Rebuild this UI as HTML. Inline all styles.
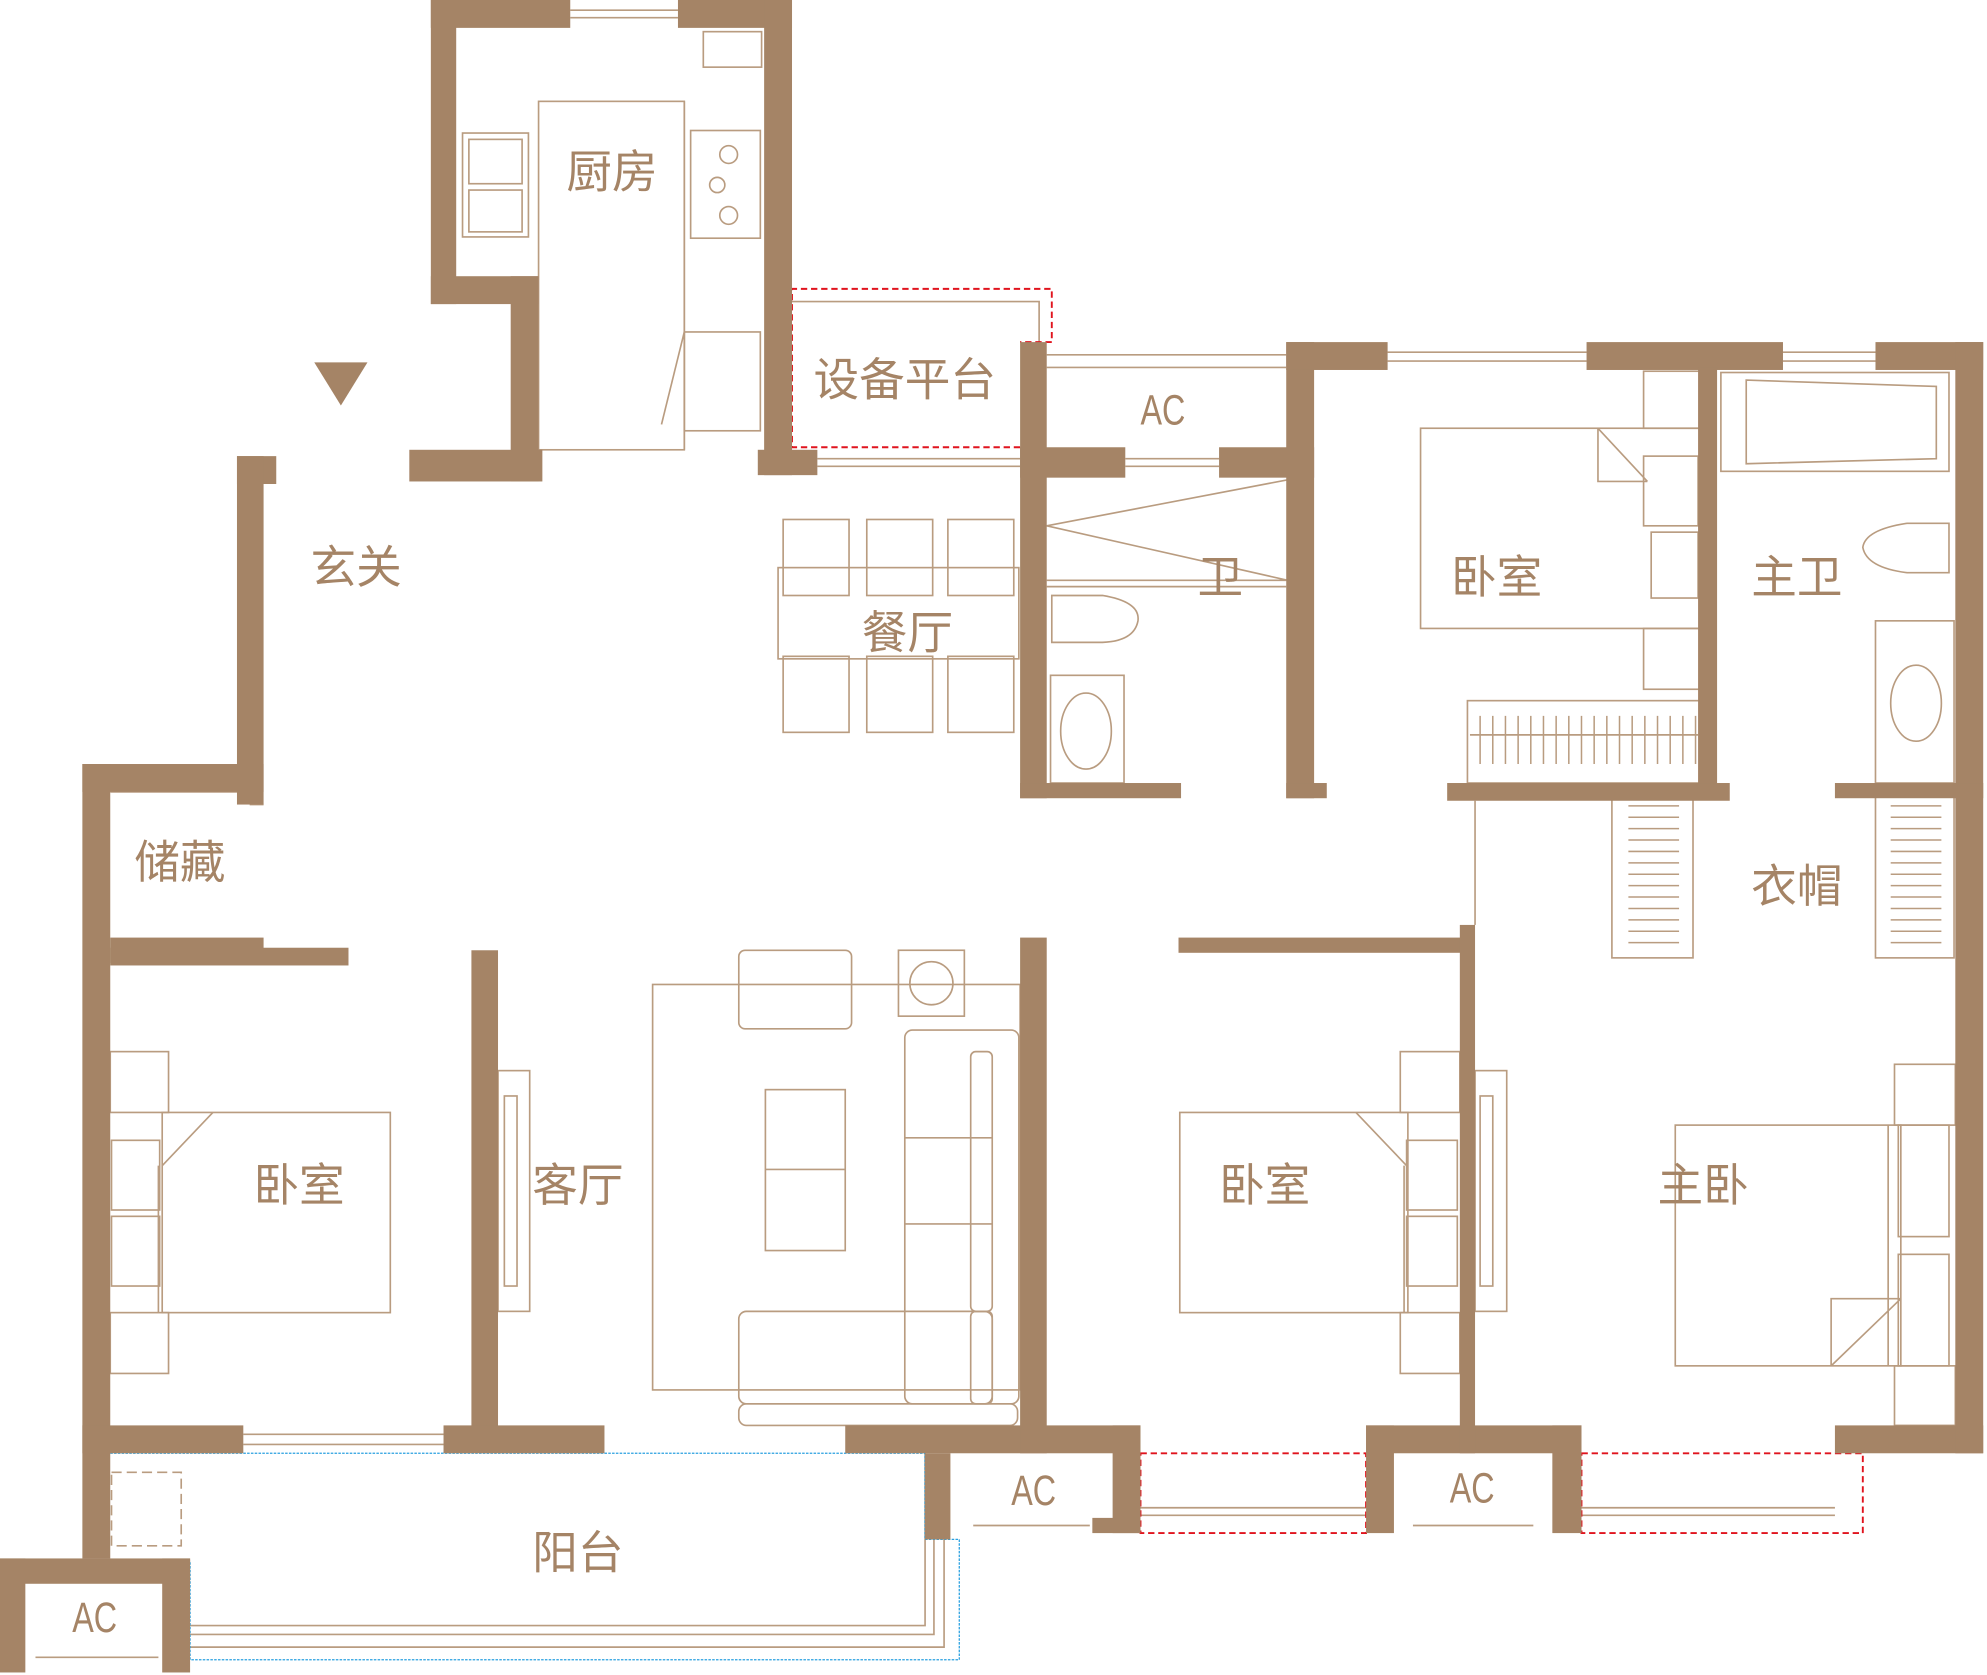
<!DOCTYPE html>
<html><head><meta charset="utf-8"><style>
html,body{margin:0;padding:0;background:#fff;}
svg{display:block}
text{font-family:"Liberation Sans","Noto Sans CJK SC",sans-serif;fill:#a58466;}
</style></head><body>
<svg width="1987" height="1675" viewBox="0 0 1568 1322" preserveAspectRatio="none" xmlns="http://www.w3.org/2000/svg">
<g fill="none" stroke="#b99c80" stroke-width="1.3">
<!-- kitchen furniture -->
<rect x="425" y="80" width="115" height="275"/>
<line x1="540" y1="80" x2="540" y2="355"/>
<rect x="365" y="105" width="52" height="82"/><rect x="370" y="110" width="42" height="35"/><rect x="370" y="150" width="42" height="33"/>
<rect x="545" y="103" width="55" height="85"/><circle cx="575" cy="122" r="7"/><circle cx="566" cy="146" r="6"/><circle cx="575" cy="170" r="7"/>
<rect x="555" y="25" width="46" height="28"/>
<rect x="540" y="262" width="60" height="78"/><line x1="522" y1="335" x2="540" y2="262"/>
<!-- equipment platform -->
<polyline points="625,238 820,238 820,270"/>
<!-- AC top -->
<line x1="826" y1="280" x2="1015" y2="280"/><line x1="826" y1="290" x2="1015" y2="290"/>
<!-- windows -->
<g>
<line x1="450" y1="8" x2="535" y2="8"/><line x1="450" y1="14" x2="535" y2="14"/>
<line x1="645" y1="362" x2="805" y2="362"/><line x1="645" y1="368" x2="805" y2="368"/>
<line x1="888" y1="362" x2="962" y2="362"/><line x1="888" y1="368" x2="962" y2="368"/>
<line x1="1095" y1="278" x2="1252" y2="278"/><line x1="1095" y1="285" x2="1252" y2="285"/>
<line x1="1407" y1="278" x2="1480" y2="278"/><line x1="1407" y1="285" x2="1480" y2="285"/>
<line x1="192" y1="1132" x2="350" y2="1132"/><line x1="192" y1="1140" x2="350" y2="1140"/>
<line x1="900" y1="1190" x2="1078" y2="1190"/><line x1="900" y1="1196" x2="1078" y2="1196"/>
<line x1="1248" y1="1190" x2="1448" y2="1190"/><line x1="1248" y1="1196" x2="1448" y2="1196"/>
</g>
<!-- dining -->
<rect x="614" y="448" width="190" height="72"/>
<rect x="618" y="410" width="52" height="60"/><rect x="684" y="410" width="52" height="60"/><rect x="748" y="410" width="52" height="60"/>
<rect x="618" y="518" width="52" height="60"/><rect x="684" y="518" width="52" height="60"/><rect x="748" y="518" width="52" height="60"/>
<!-- bath -->
<line x1="826" y1="415" x2="1025" y2="377"/><line x1="826" y1="415" x2="1025" y2="460"/>
<line x1="826" y1="458" x2="1015" y2="458"/><line x1="826" y1="463" x2="1015" y2="463"/>
<path d="M830 470 H870 Q900 475 898 490 Q895 506 870 507 H830 Z"/>
<rect x="829" y="533" width="58" height="85"/><ellipse cx="857" cy="577" rx="20" ry="30"/>
<!-- bedroom top -->
<rect x="1121" y="338" width="220" height="158"/>
<polyline points="1261,338 1261,380 1300,380"/><line x1="1261" y1="338" x2="1300" y2="380"/>
<rect x="1297" y="360" width="43" height="55"/><rect x="1303" y="420" width="37" height="52"/>
<rect x="1297" y="293" width="45" height="45"/><rect x="1297" y="496" width="45" height="48"/>
<rect x="1158" y="553" width="184" height="65"/>
<line x1="1160" y1="580" x2="1340" y2="580"/>
<!-- master bath -->
<rect x="1358" y="294" width="180" height="78"/><path d="M1378 300 L1528 305 L1528 362 L1378 366 Z"/>
<path d="M1538 413 H1505 Q1472 418 1470 432 Q1473 448 1505 452 H1538 Z"/>
<rect x="1480" y="490" width="62" height="128"/><ellipse cx="1512" cy="555" rx="20" ry="30"/>
<!-- wardrobe -->
<rect x="1272" y="628" width="64" height="128"/><rect x="1480" y="628" width="62" height="128"/>
<line x1="1164" y1="632" x2="1164" y2="730"/>
<!-- living -->
<rect x="515" y="777" width="290" height="320"/>
<rect x="583" y="750" width="89" height="62" rx="5"/><rect x="709" y="750" width="52" height="52"/><circle cx="735" cy="776" r="17"/>
<rect x="604" y="860" width="63" height="127"/><line x1="604" y1="923" x2="667" y2="923"/>
<rect x="714" y="813" width="90" height="295" rx="6"/><rect x="766" y="830" width="17" height="205" rx="4"/>
<line x1="714" y1="898" x2="783" y2="898"/><line x1="714" y1="966" x2="783" y2="966"/>
<rect x="583" y="1035" width="200" height="73" rx="6"/><rect x="766" y="1035" width="17" height="73" rx="4"/>
<rect x="583" y="1108" width="220" height="17" rx="6"/>
<rect x="393" y="845" width="25" height="190"/><rect x="398" y="865" width="10" height="150"/>
<!-- left bedroom -->
<rect x="128" y="878" width="180" height="158"/>
<polyline points="168,878 128,920"/><line x1="125" y1="920" x2="125" y2="1036"/>
<rect x="88" y="900" width="38" height="55"/><rect x="88" y="960" width="38" height="55"/>
<rect x="87" y="830" width="46" height="48"/><rect x="87" y="1036" width="46" height="48"/>
<!-- bedroom 2 -->
<rect x="931" y="878" width="180" height="158"/>
<polyline points="1070,878 1110,920"/><line x1="1108" y1="920" x2="1108" y2="1036"/>
<rect x="1110" y="900" width="40" height="55"/><rect x="1110" y="960" width="40" height="55"/>
<rect x="1105" y="830" width="47" height="48"/><rect x="1105" y="1036" width="47" height="48"/>
<rect x="1164" y="845" width="25" height="190"/><rect x="1168" y="865" width="10" height="150"/>
<!-- master bed -->
<rect x="1322" y="888" width="178" height="190"/>
<line x1="1445" y1="1078" x2="1500" y2="1025"/><polyline points="1445,1078 1445,1025 1500,1025"/>
<rect x="1498" y="888" width="40" height="88"/><rect x="1498" y="990" width="40" height="88"/>
<rect x="1495" y="840" width="48" height="48"/><rect x="1495" y="1078" width="48" height="47"/>
<line x1="1490" y1="888" x2="1490" y2="1078"/>
<!-- balcony -->
<polyline points="150,1283 730,1283 730,1147"/><polyline points="150,1290 737,1290 737,1210"/><polyline points="150,1300 745,1300 745,1210"/>
<rect x="88" y="1162" width="55" height="58" stroke-dasharray="8,4"/>
<!-- storage -->
<line x1="87" y1="625" x2="197" y2="625"/>
<line x1="197" y1="635" x2="208" y2="635"/>
<line x1="768" y1="1204" x2="860" y2="1204"/><line x1="1115" y1="1204" x2="1210" y2="1204"/>
<line x1="28" y1="1308" x2="125" y2="1308"/>
</g>
<!-- wardrobe hanger lines -->
<g stroke="#b99c80" stroke-width="1.2">
<path d="M1285 636H1325M1285 645H1325M1285 654H1325M1285 663H1325M1285 672H1325M1285 681H1325M1285 690H1325M1285 699H1325M1285 708H1325M1285 717H1325M1285 726H1325M1285 735H1325M1285 744H1325"/>
<path d="M1492 636H1532M1492 645H1532M1492 654H1532M1492 663H1532M1492 672H1532M1492 681H1532M1492 690H1532M1492 699H1532M1492 708H1532M1492 717H1532M1492 726H1532M1492 735H1532M1492 744H1532"/>
<path d="M1168 565V603M1178 565V603M1188 565V603M1198 565V603M1208 565V603M1218 565V603M1228 565V603M1238 565V603M1248 565V603M1258 565V603M1268 565V603M1278 565V603M1288 565V603M1298 565V603M1308 565V603M1318 565V603M1328 565V603M1338 565V603"/>
</g>
<!-- red dashed -->
<g fill="none" stroke="#e0141e" stroke-width="1.5" stroke-dasharray="5,3">
<polyline points="805,353 625,353 625,228 830,228 830,270 805,270"/>
<rect x="900" y="1147" width="178" height="63"/>
<rect x="1248" y="1147" width="222" height="63"/>
</g>
<g fill="none" stroke="#2aa0e0" stroke-width="1" stroke-dasharray="2,1">
<polyline points="87,1147 730,1147 730,1215 757,1215 757,1310 150,1310 150,1232 87,1232"/>
</g>
<!-- walls -->
<g fill="#a58466">
<rect x="340" y="0" width="110" height="22"/><rect x="535" y="0" width="90" height="22"/>
<rect x="340" y="0" width="20" height="240"/><rect x="340" y="218" width="85" height="22"/>
<rect x="403" y="218" width="22" height="162"/><rect x="323" y="355" width="105" height="25"/>
<rect x="603" y="0" width="22" height="375"/><rect x="598" y="355" width="47" height="20"/>
<rect x="187" y="360" width="31" height="22"/><rect x="187" y="360" width="21" height="275"/>
<rect x="65" y="603" width="143" height="22"/><rect x="65" y="603" width="22" height="627"/>
<rect x="87" y="740" width="121" height="20"/><rect x="87" y="748" width="188" height="14"/>
<rect x="372" y="750" width="21" height="395"/>
<rect x="65" y="1125" width="127" height="22"/><rect x="350" y="1125" width="127" height="22"/>
<rect x="667" y="1125" width="233" height="22"/><rect x="878" y="1125" width="22" height="85"/>
<rect x="730" y="1147" width="20" height="68"/>
<rect x="1078" y="1125" width="170" height="22"/><rect x="1078" y="1125" width="22" height="85"/><rect x="1225" y="1125" width="23" height="85"/>
<rect x="1448" y="1125" width="117" height="22"/>
<rect x="805" y="270" width="21" height="360"/><rect x="805" y="353" width="83" height="24"/><rect x="962" y="353" width="75" height="24"/>
<rect x="1015" y="270" width="22" height="360"/>
<rect x="1015" y="270" width="80" height="22"/><rect x="1252" y="270" width="155" height="22"/><rect x="1480" y="270" width="85" height="22"/>
<rect x="1340" y="290" width="15" height="340"/><rect x="1543" y="270" width="22" height="877"/>
<rect x="805" y="618" width="127" height="12"/><rect x="1015" y="618" width="32" height="12"/>
<rect x="1142" y="618" width="223" height="14"/><rect x="1448" y="618" width="117" height="12"/>
<rect x="805" y="740" width="21" height="407"/><rect x="930" y="740" width="232" height="12"/>
<rect x="1152" y="730" width="12" height="417"/>
<rect x="0" y="1230" width="150" height="20"/><rect x="0" y="1230" width="20" height="90"/><rect x="128" y="1230" width="22" height="90"/>
<rect x="862" y="1198" width="38" height="12"/>
<polygon points="248,286 290,286 269,320"/>
</g>
<!-- labels -->
<g font-size="36">
<text x="447" y="148">厨房</text>
<text x="642" y="312">设备平台</text>
<text x="245" y="460">玄关</text>
<text x="680" y="512">餐厅</text>
<text x="945" y="468">卫</text>
<text x="1145" y="468">卧室</text>
<text x="1382" y="468">主卫</text>
<text x="106" y="693">储藏</text>
<text x="1382" y="712">衣帽</text>
<text x="200" y="948">卧室</text>
<text x="420" y="948">客厅</text>
<text x="962" y="948">卧室</text>
<text x="1308" y="948">主卧</text>
<text x="420" y="1238">阳台</text>
</g>
<g font-size="34" font-family="Liberation Sans Narrow, Liberation Sans, sans-serif">
<text x="900" y="335" transform="translate(900 335) scale(0.75 1) translate(-900 -335)">AC</text>
<text x="798" y="1188" transform="translate(798 1188) scale(0.75 1) translate(-798 -1188)">AC</text>
<text x="1144" y="1186" transform="translate(1144 1186) scale(0.75 1) translate(-1144 -1186)">AC</text>
<text x="57" y="1288" transform="translate(57 1288) scale(0.75 1) translate(-57 -1288)">AC</text>
</g>
</svg>
</body></html>
